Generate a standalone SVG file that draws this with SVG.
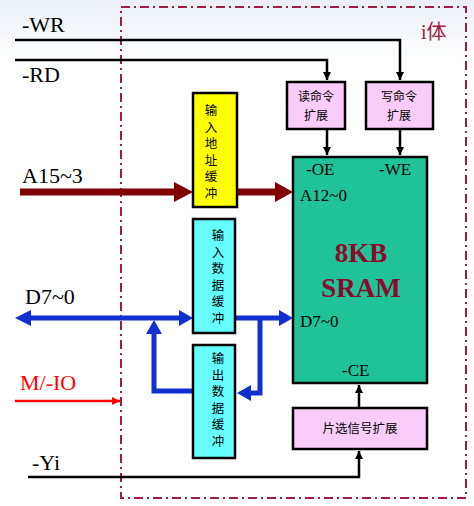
<svg xmlns="http://www.w3.org/2000/svg" width="474" height="506" viewBox="0 0 474 506">
<defs>
<linearGradient id="bg" x1="0" y1="0" x2="0" y2="1">
<stop offset="0" stop-color="#eaf0f6"/>
<stop offset="0.12" stop-color="#ffffff"/>
<stop offset="1" stop-color="#ffffff"/>
</linearGradient>
<marker id="ab" viewBox="0 0 10 10" refX="10" refY="5" markerWidth="8" markerHeight="8" markerUnits="userSpaceOnUse" orient="auto">
<path d="M0,0 L10,5 L0,10 z" fill="#000"/>
</marker>
<marker id="ar" viewBox="0 0 10 10" refX="10" refY="5" markerWidth="8" markerHeight="8" markerUnits="userSpaceOnUse" orient="auto">
<path d="M0,0 L10,5 L0,10 z" fill="#ff0000"/>
</marker>
</defs>
<style>
.lbl{font-family:"Liberation Serif","Times New Roman",serif;font-size:22px;fill:#000}
.pin{font-family:"Liberation Serif","Times New Roman",serif;font-size:17px;fill:#000}
.cjk{font-family:"Noto Sans CJK SC","Noto Sans",sans-serif;font-size:12.5px;fill:#000}
.cjk2{font-family:"Noto Sans CJK SC","Noto Sans",sans-serif;font-size:12px;fill:#000}
.vt{font-family:"Noto Sans CJK SC","Noto Sans",sans-serif;font-size:12.5px;fill:#000;writing-mode:vertical-rl;letter-spacing:4px}
.box{stroke:#000;stroke-width:2.5}
.sig{fill:none;stroke:#000;stroke-width:2.5}
.bus{fill:none;stroke:#1030d0;stroke-width:5}
.busA{fill:none;stroke:#800000;stroke-width:7}
</style>
<rect x="0" y="0" width="474" height="506" fill="url(#bg)"/>
<rect x="121" y="7" width="345" height="491" fill="none" stroke="#a01c40" stroke-width="2" stroke-dasharray="9,4,2,4"/>
<text x="421" y="39" font-family="Liberation Serif,Noto Sans CJK SC,serif" font-size="20" fill="#a01c40">i体</text>

<g id="labels">
<text class="lbl" x="22" y="32">-WR</text>
<text class="lbl" x="22" y="82">-RD</text>
<text class="lbl" x="22" y="183">A15~3</text>
<text class="lbl" x="25" y="304">D7~0</text>
<text class="lbl" x="20" y="390" style="fill:#ff0000">M/-IO</text>
<text class="lbl" x="32" y="470">-Yi</text>
</g>

<g id="connectors">
<polyline class="sig" points="15,40 400,40 400,80" marker-end="url(#ab)"/>
<polyline class="sig" points="15,60 327,60 327,80" marker-end="url(#ab)"/>
<line class="sig" x1="327" y1="129" x2="327" y2="155" marker-end="url(#ab)"/>
<line class="sig" x1="400" y1="129" x2="400" y2="155" marker-end="url(#ab)"/>
<polyline class="sig" points="28,477 359,477 359,451" marker-end="url(#ab)"/>
<line class="sig" x1="359" y1="408" x2="359" y2="385" marker-end="url(#ab)"/>
<line x1="15" y1="401" x2="120" y2="401" stroke="#ff0000" stroke-width="2.5" marker-end="url(#ar)"/>
<line class="busA" x1="20" y1="192" x2="176" y2="192"/>
<path d="M174,182 L193,192 L174,202 z" fill="#800000"/>
<line class="busA" x1="237" y1="192" x2="277" y2="192"/>
<path d="M275,182 L293,192 L275,202 z" fill="#800000"/>
<line class="bus" x1="28" y1="318" x2="182" y2="318"/>
<path d="M15,318 L31,310 L31,326 z" fill="#1030d0"/>
<path d="M193,318 L179,310 L179,326 z" fill="#1030d0"/>
<line class="bus" x1="235" y1="318" x2="282" y2="318"/>
<path d="M293,318 L279,310 L279,326 z" fill="#1030d0"/>
<polyline class="bus" points="193,391 154,391 154,330"/>
<path d="M154,320 L146,334 L162,334 z" fill="#1030d0"/>
<polyline class="bus" points="260,318 260,393 249,393"/>
<path d="M237,393 L251,385 L251,401 z" fill="#1030d0"/>
</g>

<g id="rd-cmd">
<rect class="box" x="287" y="82" width="58" height="47" fill="#f9ccf9"/>
<text class="cjk2" text-anchor="middle"><tspan x="316" y="101">读命令</tspan><tspan x="316" y="120">扩展</tspan></text>
</g>
<g id="wr-cmd">
<rect class="box" x="366" y="82" width="67" height="47" fill="#f9ccf9"/>
<text class="cjk2" text-anchor="middle"><tspan x="399" y="101">写命令</tspan><tspan x="399" y="120">扩展</tspan></text>
</g>
<g id="addr-buf">
<rect class="box" x="193" y="93" width="44" height="114" fill="#ffff00"/>
<text class="vt" x="211" y="104">输入地址缓冲</text>
</g>
<g id="in-buf">
<rect class="box" x="193" y="219" width="42" height="114" fill="#66ffff"/>
<text class="vt" x="218" y="229">输入数据缓冲</text>
</g>
<g id="out-buf">
<rect class="box" x="193" y="345" width="42" height="113" fill="#66ffff"/>
<text class="vt" x="218" y="352">输出数据缓冲</text>
</g>
<g id="sram">
<rect class="box" x="293" y="157" width="134" height="226" fill="#20c397"/>
<text class="pin" x="306" y="175">-OE</text>
<text class="pin" x="379" y="175">-WE</text>
<text class="pin" x="300" y="201">A12~0</text>
<text class="pin" x="300" y="327">D7~0</text>
<text class="pin" x="342" y="376">-CE</text>
<text x="361" y="262" text-anchor="middle" font-family="Liberation Serif,serif" font-size="27" font-weight="bold" fill="#8b0a2a">8KB</text>
<text x="361" y="297" text-anchor="middle" font-family="Liberation Serif,serif" font-size="27" font-weight="bold" fill="#8b0a2a">SRAM</text>
</g>
<g id="cs">
<rect class="box" x="293" y="408" width="134" height="41" fill="#f9ccf9"/>
<text class="cjk" x="360" y="433" text-anchor="middle">片选信号扩展</text>
</g>
</svg>
